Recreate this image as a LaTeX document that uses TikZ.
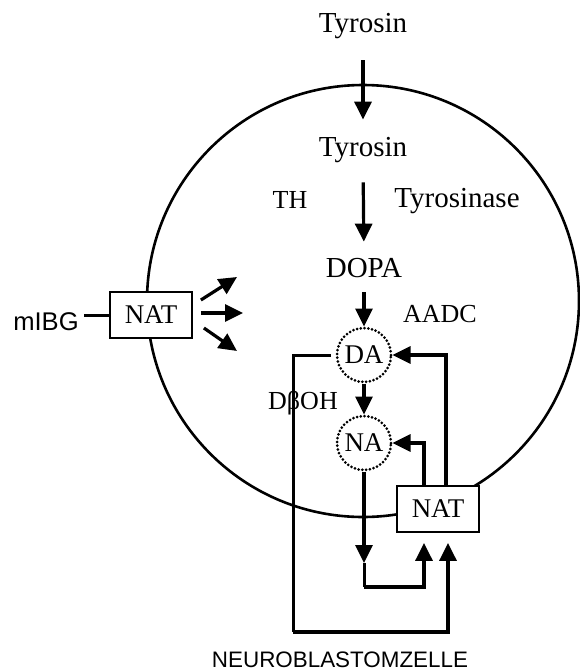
\documentclass[tikz,border=0pt]{standalone}
\usepackage{fontspec}
\setmainfont{Liberation Serif}
\newfontfamily\arialf{Liberation Sans}
\usetikzlibrary{arrows.meta,positioning,calc}
\tikzset{
  lbl/.style={inner sep=0pt,anchor=base,font=\fontsize{14.5}{16}\selectfont,text height=10pt,text depth=3pt},
  lbl-s/.style={lbl,font=\fontsize{13}{15}\selectfont},
  lbl-sans/.style={inner sep=0pt,anchor=base,font=\arialf\fontsize{12.8}{15}\selectfont},
  trans/.style={draw,fill=white,line width=0.9pt,minimum width=41pt,minimum height=23pt,inner sep=0pt,font=\fontsize{13.5}{15}\selectfont},
  amine/.style={draw,circle,dash pattern=on 0pt off 1.9pt,line cap=round,line width=1.5pt,minimum size=27pt,inner sep=0pt,font=\fontsize{13.5}{15}\selectfont},
  cell/.style={draw,circle,line width=1.3pt,minimum size=216pt,inner sep=0pt},
  flow/.style={-{Triangle[length=9pt,width=8.5pt]},line width=1.6pt},
  link/.style={line width=1.5pt},
}

\begin{document}
\begin{tikzpicture}[x=0.5pt,y=-0.5pt]
  \useasboundingbox (0,0) rectangle (579,670);

  % cell
  \node[cell] (cell) at (363,301) {};

  % synthesis chain
  \node[lbl] (tyr-out)  at (363,32)   {Tyrosin};
  \node[lbl] (tyr-in)   at (363,156)  {Tyrosin};
  \node[lbl-s] (th)     at (290,208)  {TH};
  \node[lbl] (tyrase)   at (457,207)  {Tyrosinase};
  \node[lbl] (dopa)     at (364,277)  {DOPA};
  \node[lbl-s] (aadc)   at (440,322)  {AADC};
  \node[amine] (da)     at (364,355)  {DA};
  \node[lbl-s] (dboh)   at (303,409)  {DβOH};
  \node[amine] (na)     at (364,443)  {NA};

  \draw[flow,shorten <=11pt,shorten >=8pt] (tyr-out.south) -- (tyr-in.north);
  \draw[flow,shorten <=10pt,shorten >=7.5pt] (tyr-in.south) -- (dopa.north);
  \draw[flow,shorten <=4.5pt] (dopa.south) -- (da.north);
  \draw[flow] (da.south) -- (na.north);

  % uptake at the membrane
  \node[trans] (nat-l) at (151,315) {NAT};
  \node[lbl-sans] (mibg) at (46,330) {mIBG};
  \draw[link,shorten <=2.5pt] (mibg.east |- nat-l.west) -- (nat-l.west);
  \coordinate (up-a) at (237,277);
  \coordinate (up-b) at (243,313);
  \coordinate (up-c) at (237,351);
  \draw[flow] ($(nat-l.east)+(8,-15)$)  -- (up-a);
  \draw[flow] ($(nat-l.east)+(8,-2)$)   -- (up-b);
  \draw[flow] ($(nat-l.east)+(11,13)$)  -- (up-c);

  % reuptake loops
  \node[trans] (nat-r) at (438,509) {NAT};
  \coordinate (loop-da) at (293,632);
  \coordinate (loop-na) at (364,587);
  \coordinate (na-tip)  at (364,563);
  \draw[link] ([xshift=-2.5pt]da.west) -| (loop-da);
  \draw[flow,shorten >=5pt] (loop-da) -| ([xshift=5pt]nat-r.south);
  \draw[flow] (na.south) -- (na-tip);
  \draw[link] (na-tip) -- (loop-na);
  \draw[flow,shorten >=5pt] (loop-na) -| ([xshift=-7pt]nat-r.south);
  \draw[flow] ([xshift=4pt]nat-r.north) |- (da.east);
  \draw[flow] ([xshift=-7pt]nat-r.north) |- (na.east);

  \node[lbl-sans,font=\arialf\fontsize{11.2}{13}\selectfont] (zelle) at (340,667) {NEUROBLASTOMZELLE};
\end{tikzpicture}
\end{document}
